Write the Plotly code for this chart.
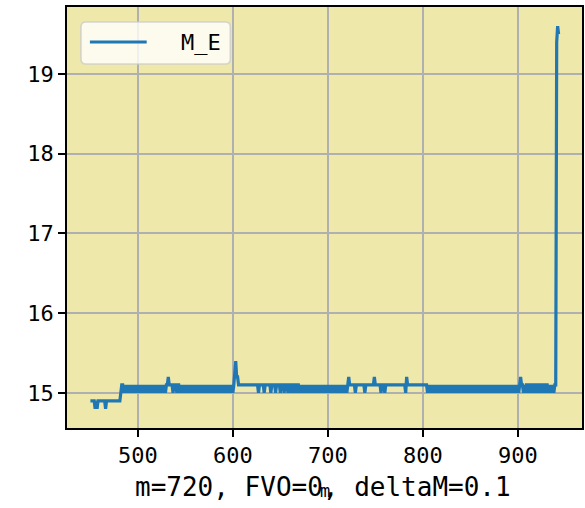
import plotly.graph_objects as go

# ---- data ----
m_first, m_last = 450, 943
# stretch at 14.9 before the step up, with dips to 14.8
low_end = 481
dips_14_8 = [455, 457, 466]
step_points = {482: 15.0}
# baseline 15.1 afterwards, with dips to 15.0
dips_15_0 = [485, 487, 489, 491, 493, 495, 497, 499, 501, 503, 505, 507, 509, 511, 513, 515,
             517, 519, 521, 523, 525, 527, 529,
             537, 541, 544, 546, 548, 550, 552, 554, 556, 558, 560, 562, 564, 566, 568, 570,
             572, 574, 576, 578, 580, 582, 584, 586, 588, 590, 592, 594, 596, 598, 600,
             627, 633, 640, 645, 650, 654, 658, 661, 664, 667, 670, 672, 674, 676, 678, 680,
             682, 684, 686, 688, 690, 692, 694, 696, 698, 700, 702, 704, 706, 708, 710, 712,
             714, 716, 718, 720,
             729, 739, 756, 760, 782,
             805, 807, 809, 811, 813, 815, 817, 819, 821, 823, 825, 827, 829, 831, 833, 835,
             837, 839, 841, 843, 845, 847, 849, 851, 853, 855, 857, 859, 861, 863, 865, 867,
             869, 871, 873, 875, 877, 879, 881, 883, 885, 887, 889, 891, 893, 895, 897, 899, 901,
             906, 908, 911, 914, 917, 920, 923, 926, 929, 932, 934, 936, 938]
spikes = {532: 15.2, 602: 15.3, 603: 15.4, 604: 15.2, 605: 15.2, 722: 15.2, 749: 15.2,
          783: 15.2, 903: 15.2, 941: 19.4, 942: 19.6, 943: 19.5}

m_values = list(range(m_first, m_last + 1))
M_E = []
for m in m_values:
    if m in spikes:
        v = spikes[m]
    elif m in step_points:
        v = step_points[m]
    elif m <= low_end:
        v = 14.8 if m in dips_14_8 else 14.9
    else:
        v = 15.0 if m in dips_15_0 else 15.1
    M_E.append(v)

x_ticks = [500, 600, 700, 800, 900]
y_ticks = [15, 16, 17, 18, 19]
series_name = "M_E"
bottom_text = "m=720, FVO=0, deltaM=0.1"
x_label = "m"

# ---- figure ----
W, H = 585, 508
L, R, T, B = 67, 1, 7, 80
pw, ph = W - L - R, H - T - B
FONT = "DejaVu Sans Mono"
BLUE = "#1f77b4"

def px(x):
    return (x - L) / pw

def py(y):
    return (H - B - y) / ph

fig = go.Figure()
fig.add_trace(go.Scatter(x=m_values, y=M_E, mode="lines", name=series_name,
                         line=dict(color=BLUE, width=3.2), showlegend=False))

xmin, xmax = min(m_values), max(m_values)
ymin, ymax = min(M_E), max(M_E)
xpad, ypad = 0.05 * (xmax - xmin), 0.05 * (ymax - ymin)

axis_common = dict(showline=True, linecolor="black", linewidth=1.6, mirror=True,
                   ticks="outside", ticklen=7, tickwidth=1.6, tickcolor="black",
                   showgrid=True, gridcolor="#b0b0b0", gridwidth=1.6, zeroline=False,
                   tickfont=dict(family=FONT, size=22, color="black"))

fig.update_layout(
    width=W, height=H, margin=dict(l=L, r=R, t=T, b=B),
    paper_bgcolor="white", plot_bgcolor="#EEE8AA",
    xaxis=dict(range=[xmin - xpad, xmax + xpad], tickvals=x_ticks, **axis_common),
    yaxis=dict(range=[ymin - ypad, ymax + ypad], tickvals=y_ticks, **axis_common),
)

# legend box (matplotlib style, rounded corners)
x0, x1, y0, y1 = 81, 231, 22, 64
r = 5
def P(x, y):
    return f"{px(x):.5f},{py(y):.5f}"
path = (f"M {P(x0 + r, y0)} L {P(x1 - r, y0)} Q {P(x1, y0)} {P(x1, y0 + r)} "
        f"L {P(x1, y1 - r)} Q {P(x1, y1)} {P(x1 - r, y1)} L {P(x0 + r, y1)} "
        f"Q {P(x0, y1)} {P(x0, y1 - r)} L {P(x0, y0 + r)} Q {P(x0, y0)} {P(x0 + r, y0)} Z")
fig.add_shape(type="path", path=path, xref="paper", yref="paper",
              fillcolor="rgba(255,255,255,0.8)", line=dict(color="rgba(204,204,204,0.8)", width=1.6))
fig.add_shape(type="line", xref="paper", yref="paper", x0=px(90), x1=px(147), y0=py(42), y1=py(42),
              line=dict(color=BLUE, width=3))
fig.add_annotation(text=series_name, xref="paper", yref="paper", x=px(179), y=py(42),
                   xanchor="left", yanchor="middle", showarrow=False,
                   font=dict(family=FONT, size=22, color="black"))

# bottom text and x label
fig.add_annotation(text=bottom_text, xref="paper", yref="paper", x=px(324), y=py(487),
                   xanchor="center", yanchor="middle", showarrow=False,
                   font=dict(family=FONT, size=26, color="black"))
fig.add_annotation(text=x_label, xref="paper", yref="paper", x=px(326), y=py(491),
                   xanchor="center", yanchor="middle", showarrow=False,
                   font=dict(family=FONT, size=17, color="black"))

fig.write_html("out.html", config={"displayModeBar": False},
               post_script="document.body.style.margin='0';document.body.style.overflow='hidden';")
